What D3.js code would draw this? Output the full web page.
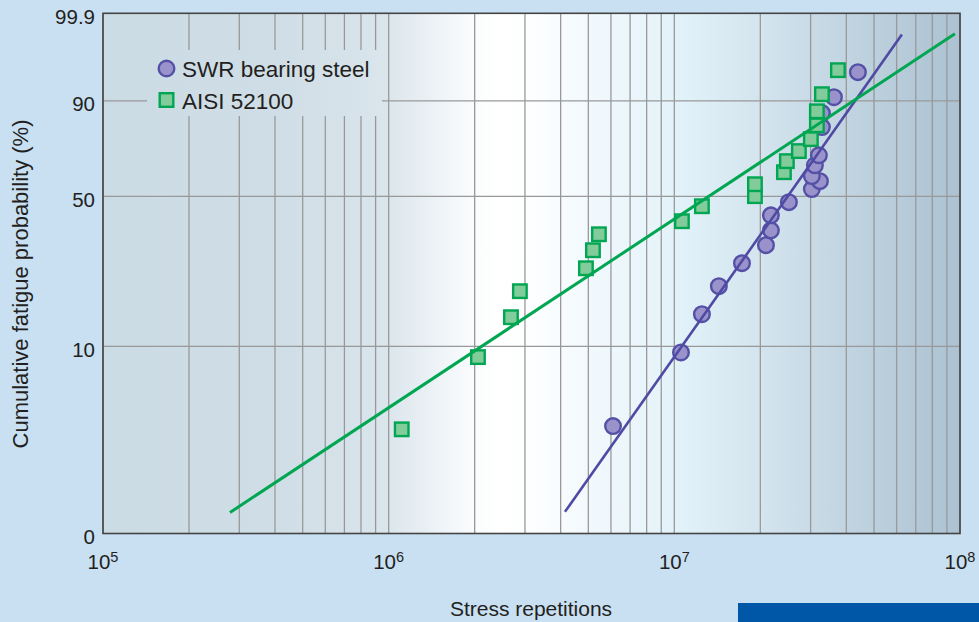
<!DOCTYPE html>
<html>
<head>
<meta charset="utf-8">
<title>Fatigue life</title>
<script src="https://d3js.org/d3.v7.min.js"></script>
<style>
  body { margin: 0; background: #c9e0f3; }
  svg { display: block; font-family: "Liberation Sans", Arial, sans-serif; }
</style>
</head>
<body>
<svg id="chart" width="979" height="622"></svg>
<script>
// stress repetitions (cycles) and cumulative fatigue probability (%)
var swrCycles = [6.10e6, 1.055e7, 1.249e7, 1.432e7, 1.725e7, 2.093e7, 2.178e7, 2.178e7, 2.518e7,
                 3.03e7, 3.233e7, 3.03e7, 3.105e7, 3.207e7, 3.286e7, 3.286e7, 3.62e7, 4.391e7];
var swrProb   = [3.8, 9.3, 14.6, 20.1, 25.9, 31.3, 36.4, 42.1, 47.5,
                 53.2, 56.8, 59.1, 64.1, 68.7, 80.9, 86.1, 91.0, 96.3];
var aisiCycles = [1.111e6, 2.054e6, 2.68e6, 2.88e6, 4.904e6, 5.19e6, 5.445e6, 1.063e7, 1.249e7, 1.915e7,
                  1.915e7, 2.419e7, 2.477e7, 2.729e7, 3.006e7, 3.155e7, 3.155e7, 3.286e7, 3.738e7];
var aisiProb   = [3.65, 8.8, 14.1, 19.0, 24.5, 29.7, 35.0, 39.8, 45.8, 50.1,
                  55.4, 60.9, 66.0, 70.6, 75.9, 81.6, 86.7, 91.8, 96.6];
// fitted lines (end points)
var swrFitCycles = [4.14e6, 6.26e7];
var swrFitProb   = [1.31, 99.5];
var aisiFitCycles = [2.783e5, 9.6e7];
var aisiFitProb   = [1.30, 99.52];

var xTicks = [1e5, 1e6, 1e7, 1e8];
var yTicks = [1, 10, 50, 90, 99.9];
var yTickLabels = ["0", "10", "50", "90", "99.9"];
var seriesNames = ["SWR bearing steel", "AISI 52100"];

var svg = d3.select("#chart");
var margin = {left: 103, right: 19, top: 13.3, bottom: 88.5};
var W = 979, H = 622;
var x0 = margin.left, x1 = W - margin.right, y0 = margin.top, y1 = H - margin.bottom;

// Weibull probability transform
function weib(p) { return Math.log(-Math.log(1 - p / 100)); }

var x = d3.scaleLog().domain([1e5, 1e8]).range([x0, x1]);
var yw = d3.scaleLinear().domain([weib(1), weib(99.9)]).range([y1, y0]);
function y(p) { return yw(weib(p)); }

// background gradient
var defs = svg.append("defs");
var grad = defs.append("linearGradient").attr("id", "bg")
  .attr("gradientUnits", "userSpaceOnUse")
  .attr("x1", x0).attr("x2", x1).attr("y1", 0).attr("y2", 0);
[[0, "#cbdbe4"], [0.2, "#cfdde6"], [0.33, "#dae5ec"], [0.42, "#f7fafc"], [0.46, "#ffffff"],
 [0.5, "#fdfeff"], [0.58, "#f0f8fc"], [0.666, "#e3f3fa"], [0.77, "#d3e4ee"], [0.88, "#bfd2df"], [1, "#acc2d2"]]
  .forEach(function(s) { grad.append("stop").attr("offset", s[0]).attr("stop-color", s[1]); });

svg.append("rect").attr("x", x0).attr("y", y0).attr("width", x1 - x0).attr("height", y1 - y0)
  .attr("fill", "url(#bg)");

// grid
var minor = [];
for (var e = 5; e < 8; e++) for (var k = 1; k <= 9; k++) minor.push(k * Math.pow(10, e));
minor.push(1e8);
svg.append("g").selectAll("line").data(minor).enter().append("line")
  .attr("x1", function(d) { return x(d); }).attr("x2", function(d) { return x(d); })
  .attr("y1", y0).attr("y2", y1)
  .attr("stroke", "#999").attr("stroke-width", 1.3);
svg.append("g").selectAll("line").data([10, 50, 90]).enter().append("line")
  .attr("x1", x0).attr("x2", x1)
  .attr("y1", function(d) { return y(d); }).attr("y2", function(d) { return y(d); })
  .attr("stroke", "#999").attr("stroke-width", 1.3);

// legend box hides the grid behind it
svg.append("rect").attr("x", 147).attr("y", 50).attr("width", 235).attr("height", 66)
  .attr("fill", "url(#bg)");

// frame
svg.append("rect").attr("x", x0).attr("y", y0).attr("width", x1 - x0).attr("height", y1 - y0)
  .attr("fill", "none").attr("stroke", "#444").attr("stroke-width", 1.6);

// y tick labels
svg.append("g").selectAll("text").data(yTicks).enter().append("text")
  .attr("x", 95).attr("y", function(d) { return y(d) + 10.5; })
  .attr("text-anchor", "end").attr("font-size", 20.5).attr("fill", "#231f20")
  .text(function(d, i) { return yTickLabels[i]; });

// x tick labels 10^n
var xl = svg.append("g").selectAll("text").data(xTicks).enter().append("text")
  .attr("x", function(d) { return x(d); }).attr("y", 569)
  .attr("text-anchor", "middle").attr("font-size", 20.5).attr("fill", "#231f20");
xl.append("tspan").text("10");
xl.append("tspan").attr("dy", -7).attr("font-size", 14.5)
  .text(function(d) { return Math.round(Math.log10(d)); });

// axis titles
svg.append("text").attr("x", 531).attr("y", 616).attr("text-anchor", "middle")
  .attr("font-size", 21).attr("fill", "#231f20").text("Stress repetitions");
svg.append("text").attr("transform", "translate(28," + 284 + ") rotate(-90)")
  .attr("text-anchor", "middle").attr("font-size", 22).attr("fill", "#231f20")
  .text("Cumulative fatigue probability (%)");

// blue bar bottom right
svg.append("rect").attr("x", 738).attr("y", 603).attr("width", 241).attr("height", 19).attr("fill", "#0057a8");

var purpleFill = "#9a93cb", purpleStroke = "#5450a5";
var greenFill = "#82cc9c", greenStroke = "#00a651";

// data points
var swr = swrCycles.map(function(c, i) { return {c: c, p: swrProb[i]}; });
var aisi = aisiCycles.map(function(c, i) { return {c: c, p: aisiProb[i]}; });

svg.append("g").selectAll("circle").data(swr).enter().append("circle")
  .attr("cx", function(d) { return x(d.c); }).attr("cy", function(d) { return y(d.p); })
  .attr("r", 7.8).attr("fill", purpleFill).attr("stroke", purpleStroke).attr("stroke-width", 2.4);

var sq = 13.5;
svg.append("g").selectAll("rect").data(aisi).enter().append("rect")
  .attr("x", function(d) { return x(d.c) - sq / 2; }).attr("y", function(d) { return y(d.p) - sq / 2; })
  .attr("width", sq).attr("height", sq)
  .attr("fill", greenFill).attr("stroke", greenStroke).attr("stroke-width", 2.4);

// fitted lines
var line = d3.line().x(function(d) { return x(d[0]); }).y(function(d) { return y(d[1]); });
svg.append("path").datum(d3.zip(swrFitCycles, swrFitProb)).attr("d", line)
  .attr("fill", "none").attr("stroke", "#4f4aa3").attr("stroke-width", 2.6);
svg.append("path").datum(d3.zip(aisiFitCycles, aisiFitProb)).attr("d", line)
  .attr("fill", "none").attr("stroke", "#00a651").attr("stroke-width", 3);

// legend
svg.append("circle").attr("cx", 166.5).attr("cy", 68.5).attr("r", 7.8)
  .attr("fill", purpleFill).attr("stroke", purpleStroke).attr("stroke-width", 2.4);
svg.append("rect").attr("x", 166.5 - 6.8).attr("y", 100 - 6.8).attr("width", 13.6).attr("height", 13.6)
  .attr("fill", greenFill).attr("stroke", greenStroke).attr("stroke-width", 2.4);
svg.append("g").selectAll("text").data(seriesNames).enter().append("text")
  .attr("x", 182).attr("y", function(d, i) { return 76.5 + i * 32; })
  .attr("font-size", 22.5).attr("fill", "#231f20").text(function(d) { return d; });
</script>
</body>
</html>
